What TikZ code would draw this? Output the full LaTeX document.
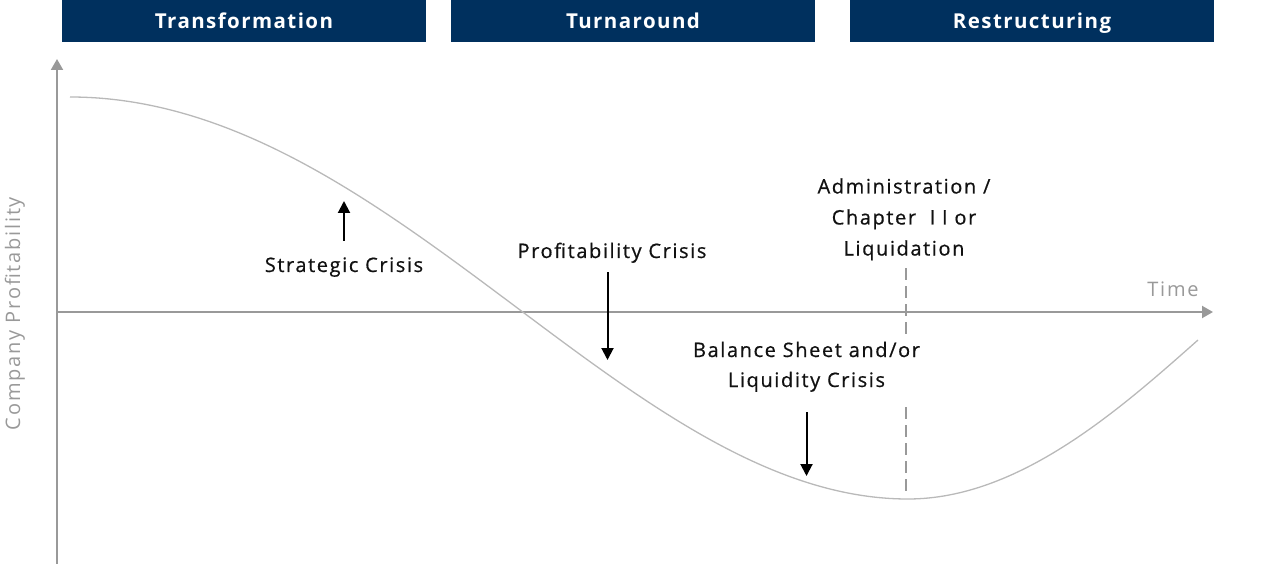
\documentclass[tikz,border=0pt]{standalone}
\usepackage{fontspec}
\setmainfont{Open Sans}[LetterSpace=6]
\newfontfamily\lblfont{Open Sans}[LetterSpace=8,FakeBold=0.6]
\newfontfamily\axfont{Open Sans}[LetterSpace=9]
\newfontfamily\hdrfont{Open Sans}[LetterSpace=7,BoldFont={* Bold}]
\usetikzlibrary{arrows.meta}
\definecolor{navy}{RGB}{0,48,94}
\definecolor{axisgray}{RGB}{153,153,153}
\definecolor{curvegray}{RGB}{185,185,185}
\definecolor{ink}{RGB}{17,17,17}
\tikzset{
  hdr/.style={fill=navy, minimum width=364pt, minimum height=42pt, inner sep=0pt, text=white,
    text height=15pt, text depth=0pt, font=\hdrfont\fontsize{20.5}{24}\selectfont\bfseries},
  lbl/.style={anchor=base, inner sep=0pt, text=ink, font=\lblfont\fontsize{20}{24}\selectfont},
  axislbl/.style={anchor=base, inner sep=0pt, text=axisgray, font=\axfont\fontsize{20}{24}\selectfont},
  axis/.style={draw=axisgray, line width=2pt, -{Triangle[length=11pt,width=12pt]}},
  crisisarrow/.style={draw=black, line width=2pt, -{Triangle[length=12pt,width=12pt]}},
  curve/.style={draw=curvegray, line width=1.3pt},
  vline/.style={draw=axisgray, line width=2pt, dash pattern=on 12pt off 6pt}
}
\begin{document}
\begin{tikzpicture}[x=1pt,y=-1pt]
\useasboundingbox (0,0) rectangle (1280,564);
% headers
\node[hdr] (h1) at (244,21) {Transformation};
\node[hdr] (h2) at (633,21) {Turnaround};
\node[hdr] (h3) at (1032,21) {Restructuring};
% axes
\coordinate (o) at (57,312);
\coordinate (ybot) at (57,564);
\coordinate (ytop) at (57,59);
\coordinate (xend) at (1213,312);
\draw[axis] (ybot) -- (ytop);
\draw[axis] (o) -- (xend);
\node[axislbl] (time) at (1173,296.5) {Time};
\node[axislbl, rotate=90] (yl) at (20,313.5) {Company Profitability};
% curve
\coordinate (c0) at (70,97);
\coordinate (cmin) at (908,499);
\coordinate (cend) at (1198,340);
\draw[curve] (c0) .. controls (390,97) and (628,499) .. (cmin)
                  .. controls (1018,499) and (1118,411) .. (cend);
% dashed marker
\coordinate (d1a) at (906,268);
\coordinate (d1b) at (906,334);
\coordinate (d2a) at (906,407);
\coordinate (d2b) at (906,492);
\draw[vline] (d1a) -- (d1b);
\draw[vline] (d2a) -- (d2b);
% labels
\node[lbl] (sc) at (344,272) {Strategic Crisis};
\node[lbl] (pc) at (612,258) {Profitability Crisis};
\node[lbl] (bs1) at (806.5,357) {Balance Sheet and/or};
\node[lbl] (bs2) at (806.5,387) {Liquidity Crisis};
\node[lbl] (ad1) at (904,193.5) {Administration /};
\node[lbl] (ad2) at (904,224.5) {Chapter~ I I or};
\node[lbl] (ad3) at (904,255.5) {Liquidation};
% arrows
\coordinate (sca) at (344,241);
\coordinate (scb) at (344,201);
\coordinate (pca) at (607.5,272);
\coordinate (pcb) at (607.5,360);
\coordinate (bsa) at (806.5,412);
\coordinate (bsb) at (806.5,476);
\draw[crisisarrow] (sca) -- (scb);
\draw[crisisarrow] (pca) -- (pcb);
\draw[crisisarrow] (bsa) -- (bsb);
\end{tikzpicture}
\end{document}
